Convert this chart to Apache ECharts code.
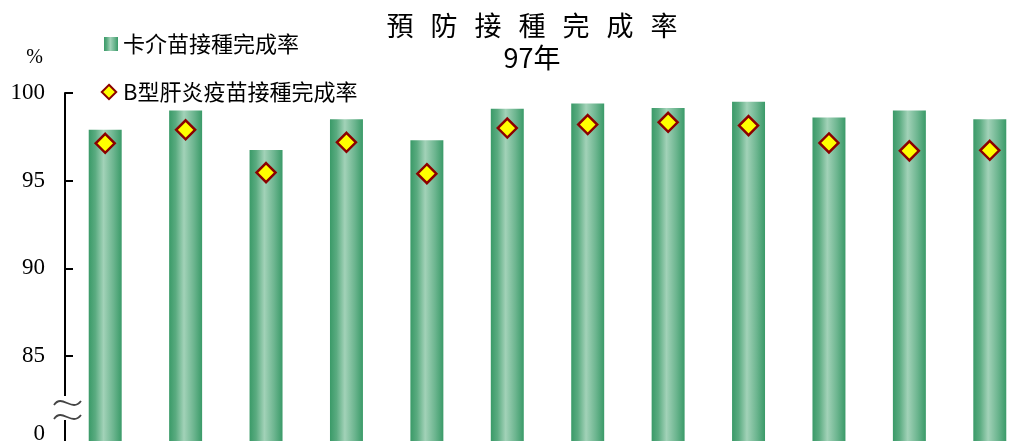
<!DOCTYPE html>
<html><head><meta charset="utf-8">
<script src="https://cdn.jsdelivr.net/npm/echarts@6/dist/echarts.min.js"></script>
<style>html,body{margin:0;padding:0;background:#fff}#c{width:1017px;height:441px}</style>
</head><body><div id="c"></div>
<script>
const categories = ['1','2','3','4','5','6','7','8','9','10','11','12'];
const bcgRate = [97.9, 99.0, 96.75, 98.5, 97.3, 99.1, 99.4, 99.15, 99.5, 98.6, 99.0, 98.5];
const hepBRate = [97.13, 97.9, 95.46, 97.19, 95.4, 98.0, 98.2, 98.33, 98.14, 97.15, 96.7, 96.73];
const yTicks = [85, 90, 95, 100];
const zeroPos = 80.56; // where the "0" label sits below the axis break
const titleLine1 = '預 防 接 種 完 成 率';
const titleLine2 = '97年';

const chart = echarts.init(document.getElementById('c'));
const barGrad = new echarts.graphic.LinearGradient(0, 0, 1, 0, [
  {offset: 0, color: '#3a9a68'},
  {offset: 0.2, color: '#5aab80'},
  {offset: 0.45, color: '#a2d2b8'},
  {offset: 0.75, color: '#6cb58f'},
  {offset: 1, color: '#3a9a68'}
]);
const serif = '"Liberation Serif", "DejaVu Serif", serif';
const cjk = '"Noto Sans CJK TC", "Noto Sans CJK SC", sans-serif';
const spaced = titleLine1.split(' ').join('{s| }');
chart.setOption({
  animation: false,
  title: {
    text: spaced + '\n' + titleLine2,
    left: 527, top: 5, textAlign: 'center',
    textStyle: {fontFamily: cjk, fontSize: 27, fontWeight: 'normal', color: '#000', lineHeight: 32,
      rich: {s: {fontFamily: cjk, fontSize: 76, lineHeight: 32}}}
  },
  legend: [
    {data: [{name: '卡介苗接種完成率', icon: 'rect'}], left: 99, top: 28, itemWidth: 14, itemHeight: 14, itemGap: 0,
     textStyle: {fontFamily: cjk, fontSize: 22, color: '#000'}},
    {data: ['B型肝炎疫苗接種完成率'], left: 94, top: 76, itemWidth: 18, itemHeight: 18,
     textStyle: {fontFamily: cjk, fontSize: 22, color: '#000'}}
  ],
  grid: {left: 65, top: 93, bottom: -1, width: 965, containLabel: false, outerBoundsMode: 'none'},
  xAxis: {type: 'category', data: categories, show: false},
  yAxis: {
    type: 'value', min: 80.1, max: 100,
    name: '%', nameLocation: 'end', nameGap: 25,
    nameTextStyle: {fontFamily: serif, fontSize: 20, color: '#000', align: 'right', padding: [0, 22, 0, 0]},
    axisLine: {show: true, lineStyle: {color: '#000', width: 2}},
    axisTick: {show: true, inside: true, length: 8, lineStyle: {color: '#000', width: 2}, customValues: yTicks},
    axisLabel: {color: '#000', fontFamily: serif, fontSize: 23, margin: 20,
      customValues: [zeroPos].concat(yTicks),
      formatter: v => (Math.abs(v - zeroPos) < 0.01 ? '0' : String(v))},
    splitLine: {show: false}
  },
  series: [
    {name: '卡介苗接種完成率', type: 'bar', data: bcgRate, barWidth: '41%',
     itemStyle: {color: barGrad}, z: 2},
    {name: 'B型肝炎疫苗接種完成率', type: 'line', data: hepBRate, symbol: 'diamond', symbolSize: 19,
     lineStyle: {opacity: 0}, itemStyle: {color: '#ffff00', borderColor: '#8b0000', borderWidth: 2.5}, z: 5}
  ],
  graphic: [
    {type: 'rect', shape: {x: 58, y: 396, width: 14, height: 24}, style: {fill: '#fff'}, z: 100},
    {type: 'bezierCurve', shape: {x1: 54, y1: 405, x2: 81, y2: 401, cpx1: 62, cpy1: 393, cpx2: 72, cpy2: 413},
     style: {stroke: '#444', lineWidth: 1.8, fill: null}, z: 101},
    {type: 'bezierCurve', shape: {x1: 54, y1: 419, x2: 81, y2: 415, cpx1: 62, cpy1: 407, cpx2: 72, cpy2: 427},
     style: {stroke: '#444', lineWidth: 1.8, fill: null}, z: 101}
  ]
});
</script></body></html>
